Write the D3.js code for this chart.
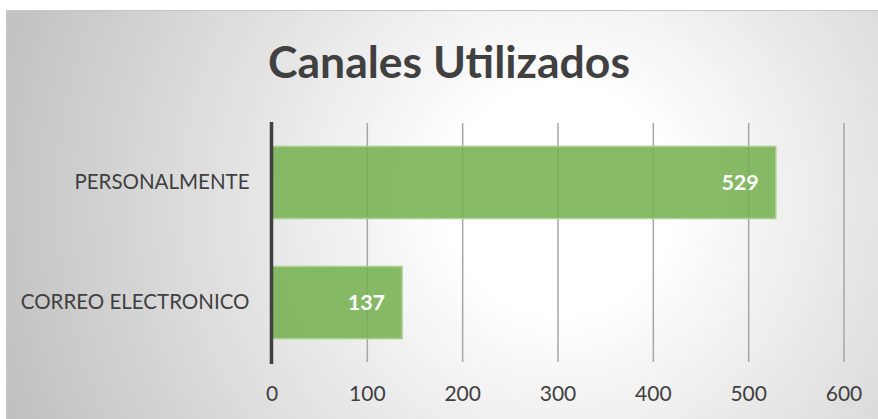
<!DOCTYPE html>
<html>
<head>
<meta charset="utf-8">
<script src="https://cdn.jsdelivr.net/npm/d3@7"></script>
<style>
  html, body { margin: 0; padding: 0; background: #fff; }
  svg { display: block; }
</style>
</head>
<body>
<svg id="chart" width="878" height="419"></svg>
<script>
// Channel counts
const categories = ["PERSONALMENTE", "CORREO ELECTRONICO"];
const values = [529, 137];
const tickValues = [0, 100, 200, 300, 400, 500, 600];
const title = "Canales Utilizados";

const svg = d3.select("#chart");
const W = 878, H = 419;
const font = "Lato, 'Open Sans', sans-serif";

// Panel background: soft radial shading
const defs = svg.append("defs");
const grad = defs.append("radialGradient")
  .attr("id", "bg")
  .attr("gradientUnits", "userSpaceOnUse")
  .attr("cx", 560).attr("cy", 200).attr("r", 620);
grad.append("stop").attr("offset", "0%").attr("stop-color", "#ffffff");
grad.append("stop").attr("offset", "18%").attr("stop-color", "#ffffff");
grad.append("stop").attr("offset", "100%").attr("stop-color", "#bcbcbc");

svg.append("rect")
  .attr("x", 6.5).attr("y", 10.5)
  .attr("width", W).attr("height", H)
  .attr("fill", "url(#bg)")
  .attr("stroke", "#c6c6c6").attr("stroke-width", 1);

const x = d3.scaleLinear().domain([0, 600]).range([271.5, 843.5]);
const y = d3.scaleBand().domain(categories).range([123, 362]).paddingInner(0.4).paddingOuter(0.195);

// Title
svg.append("text")
  .attr("x", 449).attr("y", 78)
  .attr("text-anchor", "middle")
  .attr("font-family", font).attr("font-weight", "bold")
  .attr("font-size", 44.5).attr("fill", "#404040")
  .text(title);

// Vertical gridlines
const xAxis = d3.axisBottom(x).tickValues(tickValues).tickSize(-(362 - 123)).tickPadding(24);
const gx = svg.append("g").attr("transform", "translate(0,362)").call(xAxis);
gx.select(".domain").remove();
gx.selectAll(".tick line").attr("stroke", "#a6a6a6").attr("stroke-width", 1.5)
  .filter(d => d === 0).remove();
gx.selectAll(".tick text")
  .attr("font-family", font).attr("font-size", 21).attr("fill", "#404040");

// Bars
svg.append("g").selectAll("rect")
  .data(categories)
  .join("rect")
  .attr("x", x(0))
  .attr("y", d => y(d))
  .attr("width", (d, i) => x(values[i]) - x(0))
  .attr("height", y.bandwidth())
  .attr("fill", "#76b152").attr("fill-opacity", 0.88)
  .attr("stroke", "#a9d18e").attr("stroke-width", 1.5);

// Value labels inside bar ends
svg.append("g").selectAll("text")
  .data(categories)
  .join("text")
  .attr("x", (d, i) => x(values[i]) - 17)
  .attr("y", d => y(d) + y.bandwidth() / 2)
  .attr("dy", "0.35em")
  .attr("text-anchor", "end")
  .attr("font-family", font).attr("font-weight", "bold")
  .attr("font-size", 21.5).attr("fill", "#ffffff")
  .text((d, i) => values[i]);

// Category axis
const yAxis = d3.axisLeft(y).tickSize(0).tickPadding(22);
const gy = svg.append("g").attr("transform", `translate(${x(0)},0)`).call(yAxis);
gy.select(".domain").remove();
gy.selectAll(".tick text")
  .attr("font-family", font).attr("font-size", 20.5).attr("fill", "#404040");

svg.append("line")
  .attr("x1", x(0)).attr("x2", x(0))
  .attr("y1", 122).attr("y2", 364)
  .attr("stroke", "#404040").attr("stroke-width", 3.5);
</script>
</body>
</html>
